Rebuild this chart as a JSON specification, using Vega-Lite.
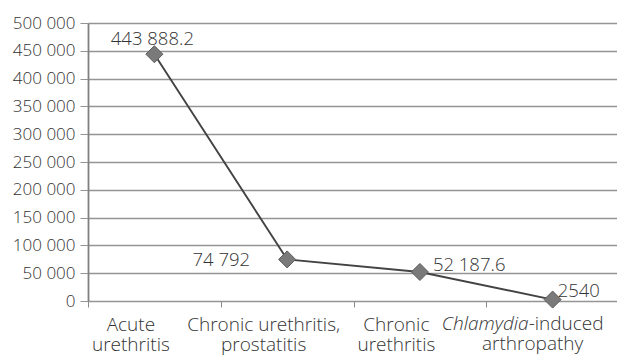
{
  "$schema": "https://vega.github.io/schema/vega-lite/v6.json",
  "width": 521,
  "height": 278,
  "autosize": {"type": "none"},
  "padding": {"left": 88, "top": 23, "right": 8, "bottom": 55},
  "background": "white",
  "config": {"view": {"stroke": null}, "font": "Open Sans"},
  "data": {
    "values": [
      {"condition": "Acute urethritis", "cases": 443888.2, "label": "443 888.2"},
      {"condition": "Chronic urethritis, prostatitis", "cases": 74792, "label": "74 792"},
      {"condition": "Chronic urethritis", "cases": 52187.6, "label": "52 187.6"},
      {"condition": "Chlamydia-induced arthropathy", "cases": 2540, "label": "2540"}
    ]
  },
  "encoding": {
    "x": {
      "field": "condition",
      "type": "nominal",
      "sort": null,
      "bandPosition": 0.5,
      "scale": {"type": "band", "paddingInner": 0, "paddingOuter": 0, "range": [0, 531], "domain": ["Acute urethritis", "Chronic urethritis, prostatitis", "Chronic urethritis", "Chlamydia-induced arthropathy"]},
      "axis": {
        "title": null,
        "labelAngle": 0,
        "tickBand": "extent",
        "domain": false,
        "grid": false,
        "ticks": true,
        "tickSize": 6,
        "tickColor": "#8a8a8a",
        "labelFontSize": 19,
        "labelFontWeight": 300,
        "labelColor": "#333333",
        "labelPadding": 8,
        "labelOffset": -24,
        "labelLineHeight": 20,
        "labelExpr": "datum.value == 'Acute urethritis' ? ['Acute', 'urethritis'] : datum.value == 'Chronic urethritis, prostatitis' ? ['Chronic urethritis,', 'prostatitis'] : datum.value == 'Chronic urethritis' ? ['Chronic', 'urethritis'] : ''"
      }
    },
    "y": {
      "field": "cases",
      "type": "quantitative",
      "scale": {"domain": [0, 500000], "nice": false},
      "axis": {
        "title": null,
        "values": [0, 50000, 100000, 150000, 200000, 250000, 300000, 350000, 400000, 450000, 500000],
        "grid": true,
        "gridColor": "#959595",
        "gridWidth": 1.3,
        "domain": true,
        "domainColor": "#808080",
        "domainWidth": 1.8,
        "tickColor": "#959595",
        "tickSize": 8,
        "labelPadding": 5,
        "labelFontSize": 17,
        "labelFontWeight": 300,
        "labelColor": "#333333",
        "labelExpr": "replace(format(datum.value, ','), regexp(',', 'g'), ' ')"
      }
    }
  },
  "layer": [
    {"mark": {"type": "line", "color": "#434343", "strokeWidth": 1.9}},
    {"mark": {"type": "point", "shape": "diamond", "size": 290, "filled": true, "color": "#7a7a7a", "stroke": "#5c5c5c", "strokeWidth": 1, "opacity": 1}},
    {
      "transform": [{"filter": "datum.condition == 'Acute urethritis'"}],
      "mark": {"type": "text", "align": "center", "baseline": "middle", "dx": -2, "dy": -15, "fontSize": 18.5, "fontWeight": 300, "color": "#333333"},
      "encoding": {"text": {"field": "label"}}
    },
    {
      "transform": [{"filter": "datum.condition == 'Chronic urethritis, prostatitis'"}],
      "mark": {"type": "text", "align": "right", "baseline": "middle", "dx": -37, "dy": 1, "fontSize": 18.5, "fontWeight": 300, "color": "#333333"},
      "encoding": {"text": {"field": "label"}}
    },
    {
      "transform": [{"filter": "datum.condition == 'Chronic urethritis'"}],
      "mark": {"type": "text", "align": "left", "baseline": "middle", "dx": 13, "dy": -7, "fontSize": 18.5, "fontWeight": 300, "color": "#333333"},
      "encoding": {"text": {"field": "label"}}
    },
    {
      "transform": [{"filter": "datum.condition == 'Chlamydia-induced arthropathy'"}],
      "mark": {"type": "text", "align": "left", "baseline": "middle", "dx": 5, "dy": -9, "fontSize": 18.5, "fontWeight": 300, "color": "#333333"},
      "encoding": {"text": {"field": "label"}}
    },
    {
      "transform": [{"filter": "datum.condition == 'Chlamydia-induced arthropathy'"}],
      "mark": {"type": "text", "align": "right", "baseline": "alphabetic", "dx": -24, "dy": 29, "fontSize": 19, "fontWeight": 300, "fontStyle": "italic", "color": "#333333"},
      "encoding": {"y": {"datum": 0, "type": "quantitative"}, "text": {"value": "Chlamydia"}}
    },
    {
      "transform": [{"filter": "datum.condition == 'Chlamydia-induced arthropathy'"}],
      "mark": {"type": "text", "align": "left", "baseline": "alphabetic", "dx": -24, "dy": 29, "fontSize": 19, "fontWeight": 300, "color": "#333333"},
      "encoding": {"y": {"datum": 0, "type": "quantitative"}, "text": {"value": "-induced"}}
    },
    {
      "transform": [{"filter": "datum.condition == 'Chlamydia-induced arthropathy'"}],
      "mark": {"type": "text", "align": "center", "baseline": "alphabetic", "dx": -20, "dy": 49, "fontSize": 19, "fontWeight": 300, "color": "#333333"},
      "encoding": {"y": {"datum": 0, "type": "quantitative"}, "text": {"value": "arthropathy"}}
    }
  ]
}
